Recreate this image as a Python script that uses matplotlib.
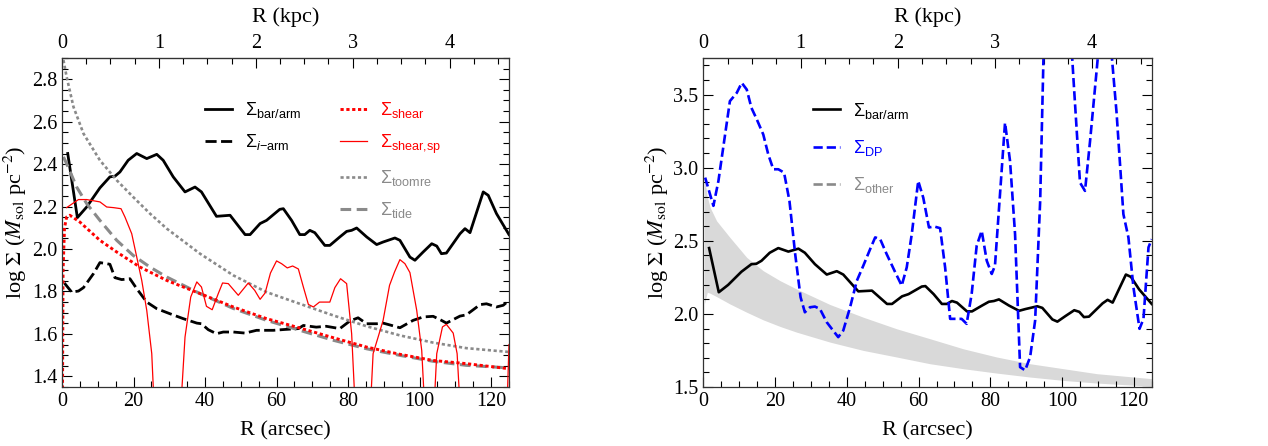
import numpy as np
import matplotlib
matplotlib.use('Agg')
import matplotlib.pyplot as plt
from matplotlib.lines import Line2D
from matplotlib.ticker import MultipleLocator, FixedLocator

plt.rcParams['font.family'] = 'Liberation Serif'
plt.rcParams['mathtext.fontset'] = 'custom'
plt.rcParams['mathtext.rm'] = 'Liberation Sans'
plt.rcParams['mathtext.it'] = 'Liberation Sans:italic'
plt.rcParams['mathtext.bf'] = 'Liberation Sans:bold'

ARCSEC_PER_KPC = 27.1

# Sigma_bar/arm (black solid, both panels)
bar_r = [1.6, 4.3, 6.9, 10.6, 13.4, 14.8, 16.2, 18.5, 20.9, 23.7, 26.5, 28.3, 31.1, 34.4,
         37.2, 39.0, 43.2, 47.0, 51.2, 52.6, 55.4, 57.2, 60.9, 61.9, 64.2, 66.5, 67.9,
         69.3, 70.7, 73.5, 74.9, 77.7, 79.6, 81.0, 82.4, 85.2, 88.0, 89.8, 93.1, 94.5,
         97.3, 98.7, 101.0, 103.4, 104.8, 106.1, 107.5, 111.3, 112.7, 114.1, 117.8,
         119.2, 121.5, 125.0]
bar_s = [2.45, 2.148, 2.198, 2.288, 2.34, 2.343, 2.363, 2.418, 2.45, 2.426, 2.446, 2.418,
         2.34, 2.269, 2.292, 2.269, 2.154, 2.159, 2.068, 2.068, 2.12, 2.135, 2.187, 2.19,
         2.135, 2.068, 2.068, 2.088, 2.077, 2.017, 2.017, 2.057, 2.083, 2.088, 2.099,
         2.057, 2.021, 2.033, 2.052, 2.041, 1.962, 1.947, 1.986, 2.025, 2.014, 1.978,
         1.981, 2.072, 2.096, 2.077, 2.269, 2.253, 2.167, 2.068]

# Sigma_i-arm (black dashed)
iarm_r = [0.65, 2.7, 4.6, 6.0, 8.8, 10.6, 12.5, 13.4, 14.8, 16.7, 19.0, 20.9, 23.7, 26.5,
          30.2, 33.9, 37.7, 39.0, 40.9, 43.2, 45.1, 47.9, 51.2, 54.4, 59.1, 62.3, 66.1,
          67.5, 71.1, 73.9, 77.7, 80.5, 82.8, 85.2, 88.0, 89.8, 92.2, 94.5, 98.2, 101.0,
          103.8, 106.1, 107.5, 111.3, 113.1, 116.9, 118.7, 121.5, 123.4, 125.0]
iarm_s = [1.84, 1.797, 1.802, 1.818, 1.884, 1.936, 1.931, 1.928, 1.865, 1.856, 1.86,
          1.813, 1.75, 1.719, 1.695, 1.672, 1.651, 1.648, 1.62, 1.601, 1.609, 1.609,
          1.604, 1.617, 1.617, 1.621, 1.625, 1.64, 1.632, 1.636, 1.625, 1.661, 1.676,
          1.648, 1.648, 1.651, 1.64, 1.629, 1.664, 1.68, 1.683, 1.664, 1.651, 1.684,
          1.69, 1.738, 1.742, 1.727, 1.735, 1.758]

# Sigma_shear (red dotted)
shear_r = [0.05, 0.3, 0.7, 1.3, 2.2, 5.0, 10.6, 15.3, 21.8, 29.3, 38.6, 47.9, 57.2, 66.5,
           75.9, 85.2, 94.5, 103.8, 113.1, 125.0]
shear_s = [1.0, 1.9, 2.1, 2.151, 2.159, 2.127, 2.041, 1.986, 1.915, 1.852, 1.79, 1.727,
           1.672, 1.628, 1.582, 1.538, 1.504, 1.475, 1.46, 1.436]

# Sigma_shear,sp (red thin solid)
shsp_r = [1.3, 4.6, 6.9, 10.6, 12.5, 14.4, 16.5, 17.6, 19.5, 20.9, 22.3, 23.7, 25.1, 27.0,
          31.6, 34.4, 36.0, 37.7, 39.0, 40.4, 42.0, 43.7, 44.9, 46.5, 49.3, 52.1, 53.9,
          55.4, 56.8, 58.3, 60.0, 61.4, 63.0, 64.5, 66.1, 67.5, 68.9, 70.3, 72.0, 74.9,
          76.3, 77.9, 79.6, 81.0, 83.0, 85.2, 87.0, 88.4, 89.8, 91.6, 93.0, 94.5, 95.9,
          97.3, 99.2, 100.6, 102.5, 103.0, 104.8, 106.4, 107.5, 109.4, 110.5, 112.5,
          123.8, 125.0]
shsp_s = [2.195, 2.233, 2.233, 2.222, 2.198, 2.195, 2.19, 2.151, 2.072, 1.962, 1.852,
          1.711, 1.507, 0.8, 0.8, 1.585, 1.774, 1.845, 1.821, 1.73, 1.714, 1.79, 1.84,
          1.837, 1.782, 1.84, 1.805, 1.763, 1.793, 1.887, 1.944, 1.931, 1.911, 1.92,
          1.906, 1.821, 1.739, 1.727, 1.75, 1.75, 1.818, 1.86, 1.837, 1.601, 0.9, 0.9,
          1.507, 1.585, 1.664, 1.829, 1.892, 1.95, 1.931, 1.889, 1.711, 1.522, 0.9, 0.9,
          1.507, 1.633, 1.645, 1.604, 1.507, 0.9, 0.9, 1.55]

# Sigma_toomre (grey dotted)
toomre_r = [0.4, 1.3, 3.2, 6.0, 10.6, 15.3, 19.9, 24.6, 29.3, 38.6, 47.9, 57.2, 66.5,
            75.9, 85.2, 94.5, 103.8, 113.1, 125.0]
toomre_s = [2.89, 2.811, 2.67, 2.544, 2.418, 2.324, 2.245, 2.167, 2.096, 1.978, 1.876,
            1.797, 1.742, 1.687, 1.636, 1.593, 1.559, 1.533, 1.515]

# Sigma_tide (grey dashed)
tide_r = [0.4, 1.3, 4.1, 6.9, 10.6, 15.3, 19.9, 24.6, 29.3, 38.6, 47.9, 57.2, 66.5, 75.9,
          85.2, 94.5, 103.8, 113.1, 125.0]
tide_s = [2.434, 2.402, 2.292, 2.214, 2.135, 2.041, 1.97, 1.915, 1.868, 1.79, 1.72,
          1.664, 1.617, 1.57, 1.53, 1.499, 1.471, 1.452, 1.44]

# Sigma_DP (blue dashed, right panel)
dp_r = [0.5, 2.8, 4.2, 7.4, 9.3, 10.7, 12.1, 13.4, 14.9, 16.7, 18.1, 19.5, 20.9, 22.5,
        24.0, 25.6, 27.1, 28.3, 29.7, 31.1, 32.5, 34.4, 35.8, 37.6, 39.0, 40.9, 42.8,
        44.6, 46.5, 47.9, 49.3, 51.1, 53.5, 55.3, 56.7, 58.1, 59.9, 61.3, 62.9, 64.3,
        66.0, 67.4, 68.8, 70.6, 72.0, 73.4, 74.8, 76.2, 77.6, 79.0, 80.4, 81.3, 82.7,
        84.1, 85.5, 86.9, 88.3, 89.7, 91.1, 92.5, 93.9, 94.8, 98.5, 103.2, 105.0,
        106.4, 107.8, 109.7, 112.0, 115.2, 117.1, 118.5, 119.9, 121.6, 122.7, 124.1,
        125.0]
dp_s = [2.932, 2.739, 2.909, 3.455, 3.511, 3.58, 3.534, 3.409, 3.33, 3.227, 3.09, 2.989,
        2.989, 2.966, 2.773, 2.409, 2.114, 2.011, 2.045, 2.05, 2.034, 1.943, 1.898, 1.841,
        1.886, 2.045, 2.227, 2.33, 2.443, 2.523, 2.511, 2.409, 2.284, 2.193, 2.318, 2.545,
        2.909, 2.795, 2.591, 2.598, 2.586, 2.318, 1.966, 1.966, 1.966, 1.932, 2.136,
        2.466, 2.568, 2.364, 2.273, 2.33, 2.818, 3.307, 3.045, 2.545, 1.636, 1.614,
        1.705, 1.955, 2.773, 3.73, 5.5, 3.60, 2.898, 2.841, 3.18, 3.68, 4.3, 3.375,
        2.682, 2.523, 2.182, 1.898, 1.966, 2.455, 2.511]

# Sigma_other band (grey fill, right panel)
other_r = [0.3, 1.1, 1.9, 3.7, 7.4, 12.1, 16.7, 21.4, 26.0, 35.3, 44.6, 53.9, 63.2, 72.5,
           81.8, 91.1, 100.4, 109.7, 125.0]
other_hi = [2.93, 2.80, 2.727, 2.636, 2.523, 2.386, 2.295, 2.227, 2.17, 2.064, 1.977,
            1.898, 1.83, 1.761, 1.705, 1.659, 1.625, 1.591, 1.557]
other_lo = [2.07, 2.148, 2.141, 2.118, 2.068, 2.011, 1.959, 1.914, 1.875, 1.807, 1.75,
            1.705, 1.659, 1.625, 1.595, 1.568, 1.545, 1.527, 1.505]

kpc_major = [0, 1, 2, 3, 4]
kpc_minor = [0.25 * i for i in range(1, 19) if i % 4 != 0]

GREY = '#8a8a8a'
TICK_FS = 14.5
LAB_FS = 16
LEG_FS = 13


def style_axes(ax, ymajor, yminor):
    ax.set_xlim(0, 125)
    ax.xaxis.set_major_locator(MultipleLocator(20))
    ax.xaxis.set_minor_locator(MultipleLocator(5))
    ax.yaxis.set_major_locator(MultipleLocator(ymajor))
    ax.yaxis.set_minor_locator(MultipleLocator(yminor))
    ax.tick_params(which='both', direction='in', top=False, right=True,
                   labelsize=TICK_FS, width=0.8)
    ax.tick_params(which='major', length=7)
    ax.tick_params(which='minor', length=4)
    for sp in ax.spines.values():
        sp.set_linewidth(0.9)
        sp.set_color('#333333')
    ax.set_xlabel('R (arcsec)', fontsize=LAB_FS)
    ax.xaxis.set_label_coords(0.5, -0.103)
    ax.set_ylabel(r'log $\Sigma$ ($M_{\rm sol}$ pc$^{-2}$)', fontsize=LAB_FS,
                  math_fontfamily='stix')
    ax.yaxis.set_label_coords(-0.073, 0.5)
    top = ax.secondary_xaxis('top', functions=(lambda x: x / ARCSEC_PER_KPC,
                                               lambda k: k * ARCSEC_PER_KPC))
    top.xaxis.set_major_locator(FixedLocator(kpc_major))
    top.xaxis.set_minor_locator(FixedLocator(kpc_minor))
    top.tick_params(which='both', direction='in', labelsize=TICK_FS, width=0.8)
    top.tick_params(which='major', length=7)
    top.tick_params(which='minor', length=4)
    top.set_xlabel('R (kpc)', fontsize=LAB_FS, labelpad=9)


fig = plt.figure(figsize=(12.68, 4.46), dpi=100)
ax1 = fig.add_axes([0.0489, 0.1323, 0.3525, 0.7377])
ax2 = fig.add_axes([0.5547, 0.1323, 0.3536, 0.7377])

# left panel
l_bar, = ax1.plot(bar_r, bar_s, color='black', lw=2.0, label=r'$\Sigma_{\rm bar/arm}$')
l_iarm, = ax1.plot(iarm_r, iarm_s, color='black', lw=2.0, dashes=(4, 1.6),
                   label=r'$\Sigma_{i{-}\rm arm}$')
l_tide, = ax1.plot(tide_r, tide_s, color=GREY, lw=2.2, dashes=(3.5, 1.8),
                   label=r'$\Sigma_{\rm tide}$')
l_toom, = ax1.plot(toomre_r, toomre_s, color=GREY, lw=1.9, dashes=(1.2, 1.0),
                   label=r'$\Sigma_{\rm toomre}$')
l_shear, = ax1.plot(shear_r, shear_s, color='red', lw=2.1, dashes=(1.1, 0.9),
                    label=r'$\Sigma_{\rm shear}$')
l_shsp, = ax1.plot(shsp_r, shsp_s, color='red', lw=0.9,
                   label=r'$\Sigma_{\rm shear{,}sp}$')
ax1.set_ylim(1.35, 2.9)
style_axes(ax1, 0.2, 0.05)

leg_kw = dict(frameon=False, handlelength=1.5, handletextpad=0.7,
              borderpad=0, borderaxespad=0, labelspacing=0.68, labelcolor='linecolor',
              prop={'family': 'Liberation Sans', 'size': LEG_FS})
leg1 = ax1.legend(handles=[l_bar, l_iarm], loc='upper left',
                  bbox_to_anchor=(0.32, 0.872), **leg_kw)
ax1.add_artist(leg1)
ax1.legend(handles=[l_shear, l_shsp, l_toom, l_tide], loc='upper left',
           bbox_to_anchor=(0.622, 0.872), **leg_kw)

# right panel
ax2.fill_between(other_r, other_lo, other_hi, color='#d9d9d9', lw=0)
r_bar, = ax2.plot(bar_r, bar_s, color='black', lw=1.9, label=r'$\Sigma_{\rm bar/arm}$')
r_dp, = ax2.plot(dp_r, dp_s, color='blue', lw=1.9, dashes=(3.5, 1.5),
                 label=r'$\Sigma_{\rm DP}$')
r_other = Line2D([], [], color=GREY, lw=1.9, dashes=(3.5, 1.5),
                 label=r'$\Sigma_{\rm other}$')
ax2.set_ylim(1.5, 3.75)
style_axes(ax2, 0.5, 0.1)
ax2.legend(handles=[r_bar, r_dp, r_other], loc='upper left',
           bbox_to_anchor=(0.245, 0.87), **dict(leg_kw, labelspacing=0.95))

fig.savefig('out.png', dpi=100)
